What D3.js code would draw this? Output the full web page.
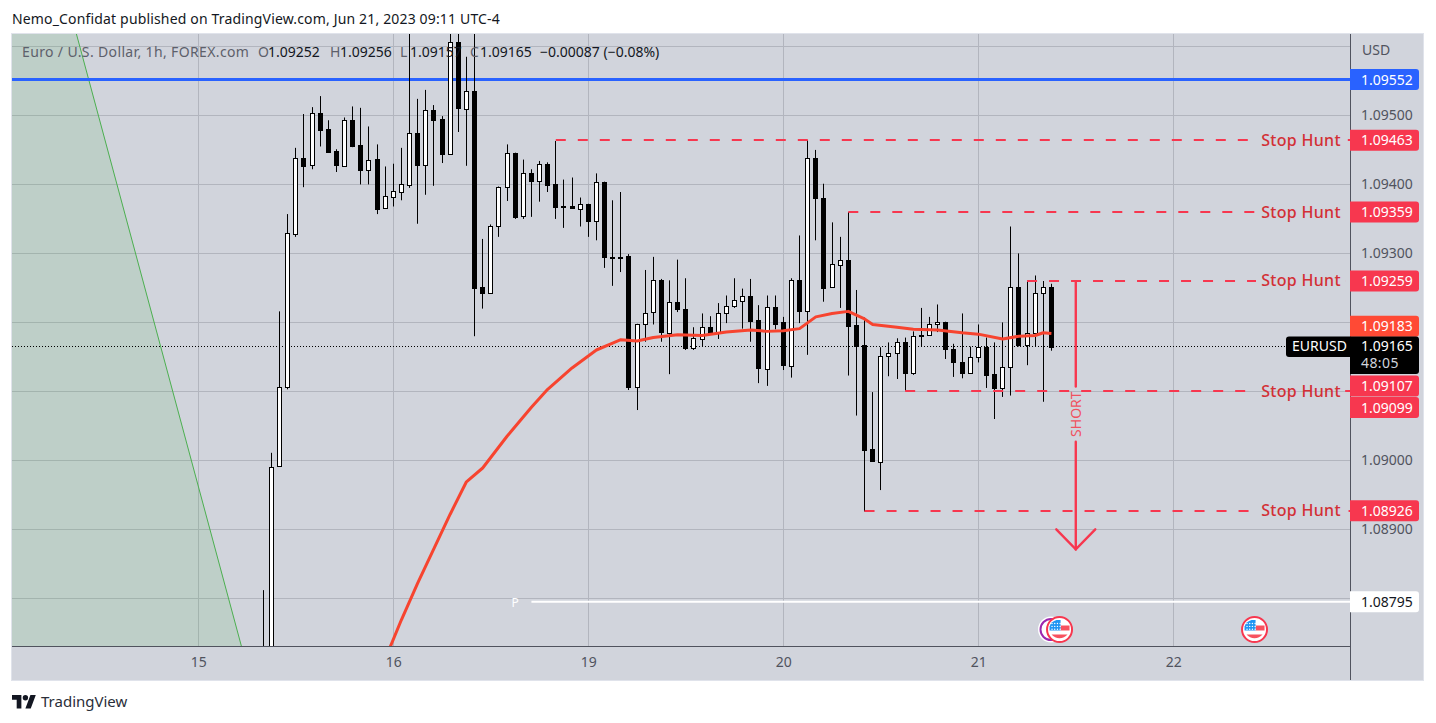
<!DOCTYPE html>
<html>
<head>
<meta charset="utf-8">
<script src="https://cdn.jsdelivr.net/npm/d3@7"></script>
<style>
  html, body { margin: 0; padding: 0; background: #fff; overflow: hidden; }
  text { font-family: "Noto Sans", sans-serif; }
</style>
</head>
<body>
<svg id="chart" width="1436" height="723"></svg>
<script>
// candles, one entry per hourly bar
const opens = [1.08712,1.08700,1.08991,1.09106,1.09329,1.09439,1.09428,1.09503,1.09480,1.09448,
  1.09427,1.09493,1.09457,1.09421,1.09437,1.09365,1.09382,1.09389,1.09399,1.09474,
  1.09428,1.09508,1.09495,1.09444,1.09606,1.09510,1.09536,1.09252,1.09243,1.09340,
  1.09396,1.09446,1.09353,1.09416,1.09405,1.09430,1.09400,1.09368,1.09368,1.09365,
  1.09372,1.09347,1.09404,1.09295,1.09295,1.09296,1.09106,1.09198,1.09214,1.09261,
  1.09185,1.09230,1.09220,1.09163,1.09177,1.09194,1.09185,1.09214,1.09224,1.09231,
  1.09238,1.09203,1.09133,1.09223,1.09200,1.09137,1.09262,1.09217,1.09439,1.09381,
  1.09251,1.09284,1.09291,1.09196,1.09167,1.09016,1.08998,1.09151,1.09156,1.09172,
  1.09127,1.09182,1.09182,1.09198,1.09201,1.09162,1.09143,1.09127,1.09150,1.09165,
  1.09125,1.09104,1.09135,1.09251,1.09168,1.09185,1.09243,1.09252];
const highs = [1.08812,1.09011,1.09216,1.09357,1.09453,1.09502,1.09512,1.09528,1.09493,1.09451,
  1.09497,1.09513,1.09511,1.09484,1.09458,1.09426,1.09430,1.09453,1.09638,1.09524,
  1.09537,1.09515,1.09499,1.09630,1.09630,1.09585,1.09638,1.09321,1.09342,1.09397,
  1.09458,1.09446,1.09436,1.09422,1.09434,1.09432,1.09463,1.09407,1.09410,1.09381,
  1.09372,1.09416,1.09404,1.09377,1.09389,1.09299,1.09198,1.09276,1.09295,1.09263,
  1.09261,1.09291,1.09264,1.09193,1.09213,1.09209,1.09228,1.09239,1.09264,1.09249,
  1.09263,1.09225,1.09239,1.09239,1.09208,1.09264,1.09326,1.09464,1.09450,1.09401,
  1.09345,1.09324,1.09360,1.09247,1.09207,1.09099,1.09164,1.09171,1.09177,1.09178,
  1.09187,1.09221,1.09208,1.09226,1.09201,1.09169,1.09213,1.09165,1.09197,1.09178,
  1.09171,1.09200,1.09339,1.09300,1.09260,1.09268,1.09260,1.09256];
const lows = [1.08695,1.08690,1.08991,1.09103,1.09324,1.09396,1.09422,1.09455,1.09447,1.09418,
  1.09427,1.09454,1.09400,1.09400,1.09357,1.09365,1.09368,1.09377,1.09395,1.09343,
  1.09385,1.09398,1.09431,1.09444,1.09476,1.09427,1.09180,1.09220,1.09243,1.09324,
  1.09376,1.09350,1.09350,1.09353,1.09375,1.09389,1.09350,1.09337,1.09365,1.09339,
  1.09324,1.09319,1.09279,1.09253,1.09273,1.09102,1.09073,1.09172,1.09197,1.09172,
  1.09125,1.09215,1.09160,1.09160,1.09165,1.09185,1.09176,1.09199,1.09221,1.09191,
  1.09172,1.09112,1.09108,1.09190,1.09131,1.09120,1.09199,1.09153,1.09319,1.09230,
  1.09250,1.09221,1.09123,1.09065,1.08926,1.08998,1.08957,1.09122,1.09118,1.09101,
  1.09124,1.09165,1.09182,1.09186,1.09147,1.09121,1.09119,1.09127,1.09142,1.09105,
  1.09060,1.09092,1.09094,1.09165,1.09138,1.09165,1.09085,1.09159];
const closes = [1.08705,1.08991,1.09106,1.09329,1.09439,1.09428,1.09503,1.09479,1.09447,1.09427,
  1.09493,1.09455,1.09421,1.09436,1.09364,1.09383,1.09390,1.09400,1.09474,1.09428,
  1.09508,1.09494,1.09444,1.09606,1.09510,1.09536,1.09251,1.09243,1.09340,1.09396,
  1.09446,1.09353,1.09416,1.09405,1.09430,1.09399,1.09367,1.09367,1.09365,1.09372,
  1.09347,1.09404,1.09295,1.09294,1.09294,1.09106,1.09198,1.09214,1.09261,1.09185,
  1.09230,1.09220,1.09163,1.09177,1.09194,1.09185,1.09214,1.09224,1.09232,1.09238,
  1.09202,1.09133,1.09223,1.09199,1.09137,1.09262,1.09217,1.09439,1.09381,1.09251,
  1.09284,1.09291,1.09195,1.09166,1.09015,1.08998,1.09152,1.09156,1.09172,1.09127,
  1.09181,1.09180,1.09198,1.09201,1.09162,1.09143,1.09127,1.09150,1.09165,1.09124,
  1.09104,1.09135,1.09251,1.09167,1.09185,1.09243,1.09252,1.09165];

// moving average, read at these bars
const maBars = [15,17,19,21,23,25,27,30,33,35,38,41,43,44,46,48,51,54,57,60,62,64,66,68,70,72,74,75,78,80,83,86,88,91,93,95,96,97];
const maValues = [1.08712,1.08769,1.08822,1.08872,1.08922,1.08969,1.08989,1.09035,1.09077,1.09103,1.09134,1.09160,1.09170,1.09175,1.09173,1.09178,1.09182,1.09181,1.09186,1.09189,1.09187,1.09188,1.09191,1.09208,1.09213,1.09216,1.09205,1.09197,1.09193,1.09190,1.09189,1.09185,1.09183,1.09176,1.09180,1.09181,1.09185,1.09184];

// drawings
const stopLevels = [1.09463,1.09359,1.09259,1.09099,1.08926];
const stopStartBars = [36,72,94,79,74];
const stopLabel = "Stop Hunt";
const shortBar = 100;
const shortPrices = [1.09259,1.09107,1.09027,1.08871];
const shortWingPrice = 1.08900;
const trendBars = [-23,-2.7];
const trendPrices = [1.09618,1.08731];
const blueLevel = 1.09552;
const pivotLevel = 1.08795;
const pivotStartBar = 33;
const lastPrice = 1.09165;
const maLast = 1.09183;
const arrowLevel = 1.09107;
const eventBars = [98,122];

// axes
const dayBars = [-8,16,40,64,88,112];
const dayLabels = ["15","16","19","20","21","22"];
const priceTicks = [1.095,1.094,1.093,1.090,1.089];
const gridPrices = [1.096,1.095,1.094,1.093,1.092,1.091,1.090,1.089,1.088];

const RED = "#f7374f", TEXT_RED = "#d32f35", GRID = "#b2b5be", AXIS = "#50535e", BG = "#d1d4dc";
const pane = { left: 12, right: 1350, top: 34, bottom: 646 };

const svg = d3.select("#chart");

// scales
const x = d3.scaleLinear().domain([-30.93,133.75]).range([pane.left,pane.right]);
const y = d3.scaleLinear().domain([1.08731,1.09618]).range([pane.bottom,pane.top]);
const fmt = d3.format(".5f");

// background panel
svg.append("rect").attr("x",11.5).attr("y",33.5).attr("width",1412).attr("height",647)
  .attr("fill",BG).attr("stroke","#e0e3eb");

const defs = svg.append("defs");
defs.append("clipPath").attr("id","paneClip").append("rect")
  .attr("x",pane.left).attr("y",pane.top)
  .attr("width",pane.right-pane.left).attr("height",pane.bottom-pane.top);
// the stop hunt lines break where their label sits
const breakClip = defs.append("clipPath").attr("id","labelBreak");
breakClip.append("rect").attr("x",pane.left).attr("y",pane.top).attr("width",1256-pane.left).attr("height",pane.bottom-pane.top);
breakClip.append("rect").attr("x",1345).attr("y",pane.top).attr("width",5).attr("height",pane.bottom-pane.top);

// grid
svg.append("g").selectAll("line").data(gridPrices).enter().append("line")
  .attr("x1",pane.left).attr("x2",pane.right)
  .attr("y1",d => Math.round(y(d))+0.5).attr("y2",d => Math.round(y(d))+0.5)
  .attr("stroke",GRID);
svg.append("g").selectAll("line").data(dayBars).enter().append("line")
  .attr("x1",d => Math.round(x(d))+0.5).attr("x2",d => Math.round(x(d))+0.5)
  .attr("y1",pane.top).attr("y2",pane.bottom)
  .attr("stroke",GRID);

const plot = svg.append("g").attr("clip-path","url(#paneClip)");

// green trend area on the far left
plot.append("path")
  .attr("d",`M${pane.left},${pane.top}L${x(trendBars[0])},${y(trendPrices[0])}L${x(trendBars[1])},${y(trendPrices[1])}L${pane.left},${pane.bottom}Z`)
  .attr("fill","#4caf50").attr("opacity",0.14);
plot.append("line")
  .attr("x1",x(trendBars[0])).attr("y1",y(trendPrices[0]))
  .attr("x2",x(trendBars[1])).attr("y2",y(trendPrices[1]))
  .attr("stroke","#4caf50").attr("stroke-width",1);

// title line sits under the candles
const title = svg.append("g").attr("font-size",14);
title.append("text").attr("x",22).attr("y",57).attr("fill","#5d606b").attr("letter-spacing",0.36).text("Euro / U.S. Dollar, 1h, FOREX.com");
const ohlcLetters = ["O","H","L","C"];
const ohlcValues = [opens[97],highs[97],1.09157,closes[97]];
const ohlcX = [258,330,400,470];
ohlcLetters.forEach((l,i) => {
  title.append("text").attr("x",ohlcX[i]).attr("y",57).attr("fill","#5d606b").text(l);
  title.append("text").attr("x",ohlcX[i]+10).attr("y",57).attr("fill","#131722").text(fmt(ohlcValues[i]));
});
title.append("text").attr("x",540).attr("y",57).attr("fill","#131722").text("\u22120.00087 (\u22120.08%)");

// level lines
plot.append("line").attr("x1",pane.left).attr("x2",pane.right)
  .attr("y1",y(blueLevel)).attr("y2",y(blueLevel))
  .attr("stroke","#2962ff").attr("stroke-width",3);
plot.append("line").attr("x1",x(pivotStartBar)).attr("x2",pane.right)
  .attr("y1",y(pivotLevel)).attr("y2",y(pivotLevel))
  .attr("stroke","#fff").attr("stroke-width",2);
plot.append("text").attr("x",x(pivotStartBar-2)).attr("y",y(pivotLevel)+5)
  .attr("text-anchor","middle").attr("fill","#fff").attr("font-size",12).text("P");
plot.append("line").attr("x1",pane.left).attr("x2",pane.right)
  .attr("y1",Math.round(y(lastPrice))-0.5).attr("y2",Math.round(y(lastPrice))-0.5)
  .attr("stroke","#000").attr("stroke-dasharray","1 2");

// candles
const bars = d3.range(opens.length);
const candles = plot.append("g").selectAll("g").data(bars).enter().append("g");
candles.append("rect")
  .attr("x",i => Math.floor(x(i))).attr("width",1)
  .attr("y",i => y(highs[i])).attr("height",i => y(lows[i])-y(highs[i]))
  .attr("fill","#000");
candles.append("rect")
  .attr("x",i => Math.floor(x(i))-1.5).attr("width",4)
  .attr("y",i => Math.round(y(Math.max(opens[i],closes[i])))+0.5)
  .attr("height",i => Math.max(1,Math.round(Math.abs(y(opens[i])-y(closes[i])))))
  .attr("fill",i => closes[i] > opens[i] ? "#fff" : "#000")
  .attr("stroke","#000");

// moving average
const maLine = d3.line().x((d,i) => x(maBars[i])).y(d => y(d));
plot.append("path").attr("d",maLine(maValues))
  .attr("fill","none").attr("stroke","#f7442f").attr("stroke-width",3).attr("stroke-linejoin","round");

// stop hunt lines and labels
const stops = svg.append("g");
stopLevels.forEach((lvl,i) => {
  stops.append("line")
    .attr("clip-path","url(#labelBreak)")
    .attr("x1",x(stopStartBars[i])).attr("x2",pane.right)
    .attr("y1",Math.round(y(lvl)-0.8)).attr("y2",Math.round(y(lvl)-0.8))
    .attr("stroke",RED).attr("stroke-width",2).attr("stroke-dasharray","10 12");
  stops.append("text").attr("x",1301).attr("y",y(lvl)+4.8)
    .attr("text-anchor","middle").attr("font-size",16).attr("font-weight",500)
    .attr("letter-spacing",0.3)
    .attr("fill",TEXT_RED).text(stopLabel);
});

// short arrow
const shortG = svg.append("g").attr("stroke",RED).attr("stroke-width",2.4).attr("fill","none").attr("stroke-linecap","round");
shortG.append("line").attr("x1",x(shortBar)).attr("x2",x(shortBar)).attr("y1",y(shortPrices[0])).attr("y2",y(shortPrices[1]));
shortG.append("line").attr("x1",x(shortBar)).attr("x2",x(shortBar)).attr("y1",y(shortPrices[2])).attr("y2",y(shortPrices[3]));
shortG.append("path")
  .attr("d",`M${x(shortBar-2.4)},${y(shortWingPrice)}L${x(shortBar)},${y(shortPrices[3])}L${x(shortBar+2.4)},${y(shortWingPrice)}`);
svg.append("text")
  .attr("transform",`translate(${x(shortBar)+5},${(y(shortPrices[1])+y(shortPrices[2]))/2}) rotate(-90)`)
  .attr("text-anchor","middle").attr("font-size",14).attr("fill","#f0515f").text("SHORT");

// event icons along the bottom of the pane
const evY = 629.5;
const ring = svg.append("g");
ring.append("circle").attr("cx",1051).attr("cy",evY).attr("r",12).attr("fill","#fff").attr("stroke","#fff").attr("stroke-width",2);
ring.append("circle").attr("cx",1051).attr("cy",evY).attr("r",10.5).attr("fill","#fff").attr("stroke","#9c27b0").attr("stroke-width",2);
eventBars.forEach(b => {
  const g = svg.append("g").attr("transform",`translate(${x(b)},${evY})`);
  g.append("circle").attr("r",12.5).attr("fill","#fff").attr("stroke",RED).attr("stroke-width",2);
  g.append("path").attr("d","M1,-4H10V1H1Z").attr("fill","#f7525f");
  g.append("path").attr("d","M-8,5H8A10.5,10.5 0 0,1 -8,5Z").attr("fill","#f7525f");
  g.append("path").attr("d","M-10,1V-3A10,10 0 0,1 -3,-9.6H1V1Z").attr("fill","#2196f3");
  g.selectAll("circle.star").data(d3.range(12)).enter().append("circle").attr("class","star")
    .attr("cx",d => -7.5+(d%4)*2.7).attr("cy",d => -6+Math.floor(d/4)*2.9).attr("r",0.7).attr("fill","#fff");
});

// axis lines
svg.append("line").attr("x1",pane.left).attr("x2",pane.right).attr("y1",pane.bottom+0.5).attr("y2",pane.bottom+0.5).attr("stroke",AXIS);
svg.append("line").attr("x1",pane.right+0.5).attr("x2",pane.right+0.5).attr("y1",pane.top).attr("y2",680).attr("stroke",AXIS);

// price axis
const yAxis = d3.axisRight(y).tickValues(priceTicks).tickFormat(fmt).tickSize(0).tickPadding(11);
const yG = svg.append("g").attr("transform",`translate(${pane.right},-0.8)`).call(yAxis);
yG.select(".domain").remove();
yG.selectAll("text").attr("font-size",14).attr("font-family","'Noto Sans', sans-serif").attr("fill","#50535e");
svg.append("text").attr("x",1362).attr("y",55).attr("font-size",14).attr("fill","#50535e").text("USD");

// time axis
const xAxis = d3.axisBottom(x).tickValues(dayBars).tickFormat((d,i) => dayLabels[i]).tickSize(0).tickPadding(11);
const xG = svg.append("g").attr("transform",`translate(0,${pane.bottom})`).call(xAxis);
xG.select(".domain").remove();
xG.selectAll("text").attr("font-size",14).attr("font-family","'Noto Sans', sans-serif").attr("fill","#50535e");

// price labels on the axis; nudges are the pixels the stacked ones get pushed by
const axisPrices = [blueLevel,stopLevels[0],stopLevels[1],stopLevels[2],maLast,arrowLevel,stopLevels[3],stopLevels[4],pivotLevel];
const axisNudges = [0,-0.8,-0.8,-0.8,-8,-0.5,15.5,-0.8,0];
const axisFills = ["#2962ff",RED,RED,RED,"#ff4a35",RED,RED,RED,"#fff"];
const axisTexts = ["#fff","#fff","#fff","#fff","#fff","#fff","#fff","#fff","#131722"];
const labelPath = cy => `M1350,${cy-10.5}H1416a3,3 0 0 1 3,3V${cy+7.5}a3,3 0 0 1 -3,3H1350Z`;
const labels = svg.append("g").selectAll("g").data(axisPrices).enter().append("g");
labels.append("path").attr("d",(d,i) => labelPath(y(d)+axisNudges[i])).attr("fill",(d,i) => axisFills[i]);
labels.append("text").attr("x",1361).attr("y",(d,i) => y(d)+axisNudges[i]+5)
  .attr("font-size",14).attr("fill",(d,i) => axisTexts[i]).text(d => fmt(d));

// current price tag
const lastY = y(lastPrice);
svg.append("path").attr("d",`M1289,${lastY-10}H1350V${lastY+10.5}H1289a3,3 0 0 1 -3,-3V${lastY-7}a3,3 0 0 1 3,-3Z`).attr("fill","#000");
svg.append("path").attr("d",`M1350,${lastY-10}H1416a3,3 0 0 1 3,3V${lastY+24.5}a3,3 0 0 1 -3,3H1350Z`).attr("fill","#000");
svg.append("text").attr("x",1292).attr("y",lastY+4.5).attr("font-size",14).attr("fill","#fff").text("EURUSD");
svg.append("text").attr("x",1361).attr("y",lastY+4.5).attr("font-size",14).attr("fill","#fff").text(fmt(lastPrice));
svg.append("text").attr("x",1361).attr("y",lastY+21.5).attr("font-size",14).attr("letter-spacing",0.4).attr("fill","#d1d4dc").text("48:05");

// header and footer
svg.append("text").attr("x",12).attr("y",24).attr("font-size",14).attr("letter-spacing",0.16).attr("fill","#131722")
  .text("Nemo_Confidat published on TradingView.com, Jun 21, 2023 09:11 UTC-4");
const logo = svg.append("g").attr("transform","translate(12,695) scale(0.67,0.68)").attr("fill","#131722");
logo.append("path").attr("d","M14 20H7V7H0V0h14v20zM28 20h-8l7.5-20h8L28 20z");
logo.append("circle").attr("cx",20).attr("cy",4).attr("r",4);
svg.append("text").attr("x",41).attr("y",707).attr("font-size",15).attr("fill","#2a2e39").text("TradingView");
</script>
</body>
</html>
